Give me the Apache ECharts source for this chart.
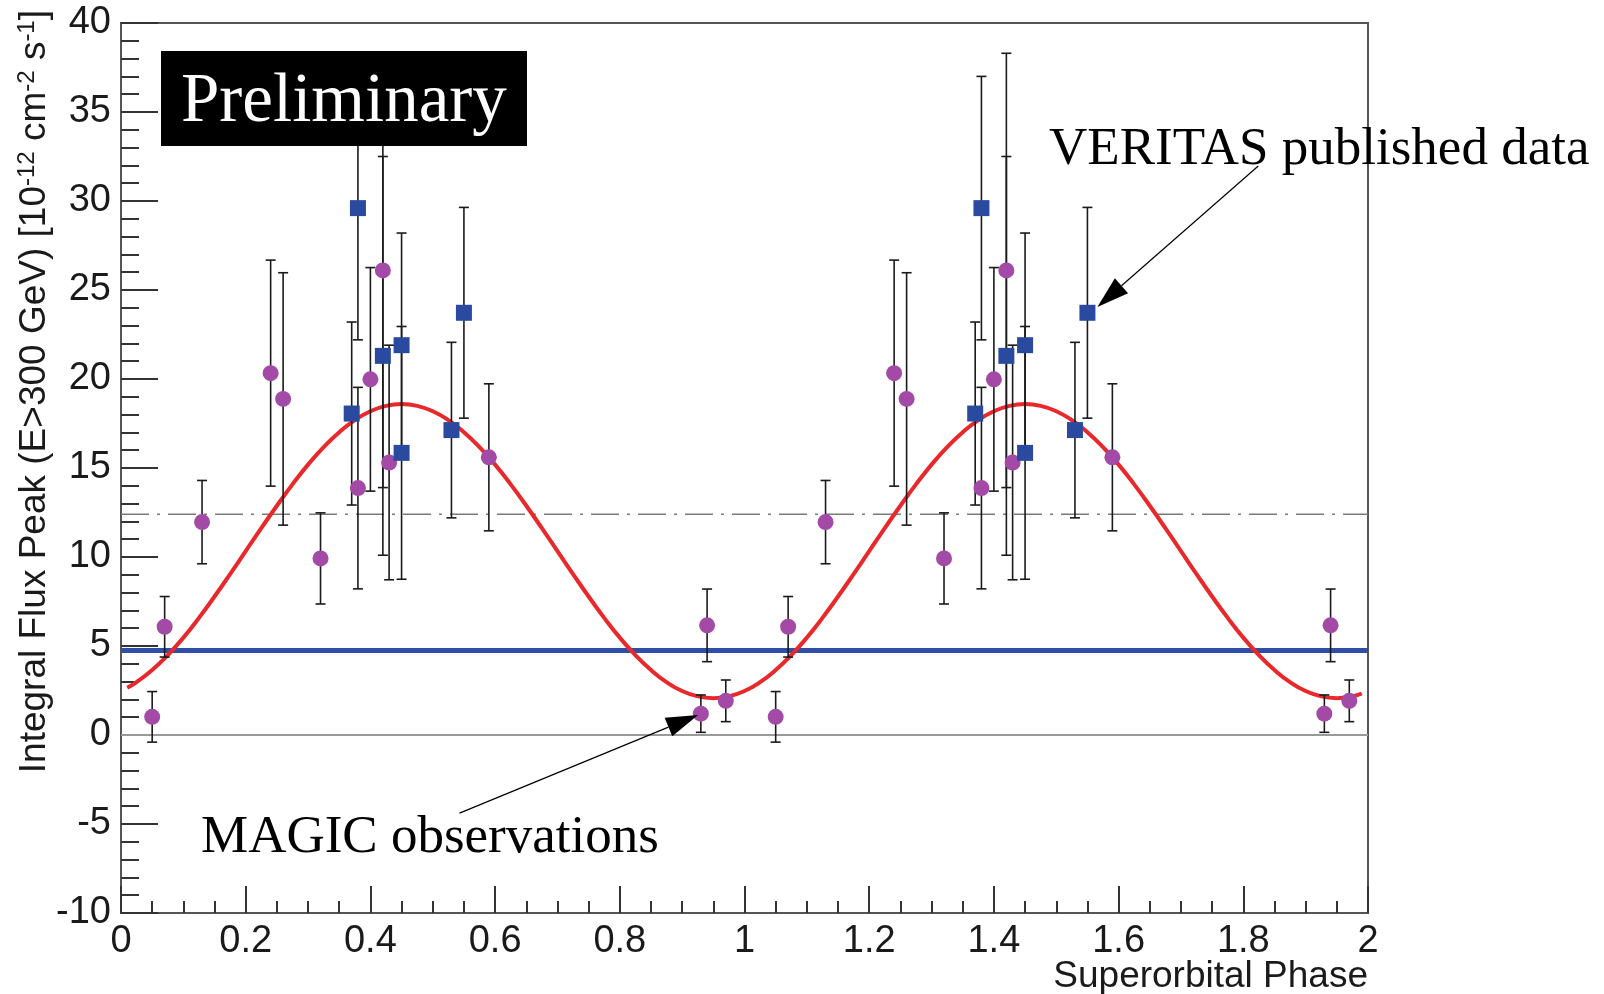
<!DOCTYPE html>
<html><head><meta charset="utf-8">
<script src="https://cdn.jsdelivr.net/npm/echarts@6/dist/echarts.min.js"></script>
<style>html,body{margin:0;padding:0;background:#fff}#c{width:1604px;height:994px}</style>
</head><body><div id="c"></div>
<script>
// ---- data (phase folded; shown over two cycles) ----
const magicPhase = [0.05, 0.07, 0.13, 0.24, 0.26, 0.32, 0.38, 0.40, 0.42, 0.43, 0.59, 0.93, 0.94, 0.97];
const magicFlux  = [1.02, 6.08, 11.96, 20.33, 18.88, 9.92, 13.87, 19.98, 26.1, 15.31, 15.6, 1.2, 6.16, 1.92];
const magicErr   = [1.42, 1.70, 2.34, 6.35, 7.09, 2.56, 5.66, 6.28, 12.2, 6.59, 4.13, 1.05, 2.04, 1.17];

const veritasPhase = [0.37, 0.38, 0.42, 0.45, 0.45, 0.53, 0.55];
const veritasFlux  = [18.06, 29.6, 21.3, 21.9, 15.85, 17.13, 23.72];
const veritasErr   = [5.14, 7.4, 11.2, 6.3, 7.1, 4.93, 5.92];

const cycles = [0, 1];

// red fitted curve
const fitPhase = [0.01,
  0.025,0.05,0.075,0.10,0.125,0.15,0.175,0.20,0.225,0.25,0.275,0.30,0.325,0.35,0.375,0.40,0.425,0.45,0.475,0.50,
  0.525,0.55,0.575,0.60,0.625,0.65,0.675,0.70,0.725,0.75,0.775,0.80,0.825,0.85,0.875,0.90,0.925,0.95,0.975,1.00,
  1.025,1.05,1.075,1.10,1.125,1.15,1.175,1.20,1.225,1.25,1.275,1.30,1.325,1.35,1.375,1.40,1.425,1.45,1.475,1.50,
  1.525,1.55,1.575,1.60,1.625,1.65,1.675,1.70,1.725,1.75,1.775,1.80,1.825,1.85,1.875,1.90,1.925,1.95,1.975,1.99];
const fitFlux = [2.65,
  2.97,3.65,4.49,5.47,6.58,7.78,9.04,10.33,11.62,12.88,14.08,15.19,16.17,17.01,17.69,18.19,18.49,18.59,18.49,18.19,
  17.69,17.01,16.17,15.19,14.08,12.88,11.62,10.33,9.04,7.78,6.58,5.47,4.49,3.65,2.97,2.47,2.17,2.07,2.17,2.47,
  2.97,3.65,4.49,5.47,6.58,7.78,9.04,10.33,11.62,12.88,14.08,15.19,16.17,17.01,17.69,18.19,18.49,18.59,18.49,18.19,
  17.69,17.01,16.17,15.19,14.08,12.88,11.62,10.33,9.04,7.78,6.58,5.47,4.49,3.65,2.97,2.47,2.17,2.07,2.17,2.33];

const blueLevel = 4.75;   // blue horizontal line
const dashLevel = 12.4;   // dash-dot mean line
const xRange = [0, 2];
const yRange = [-10, 40];

// annotation arrows (data coordinates: tail -> tip)
const veritasArrow = [[1.824, 31.97], [1.566, 24.05]];
const magicArrow   = [[0.543, -4.39], [0.9255, 1.13]];

// ---- build ----
const magicData = cycles.flatMap(c => magicPhase.map((p, i) => [p + c, magicFlux[i], magicErr[i]]));
const veritasData = cycles.flatMap(c => veritasPhase.map((p, i) => [p + c, veritasFlux[i], veritasErr[i]]));
const fitData = fitPhase.map((p, i) => [p, fitFlux[i]]);

function errBar(params, api) {
  const x = api.value(0), y = api.value(1), e = api.value(2);
  const t = api.coord([x, y + e]), b = api.coord([x, y - e]);
  const hw = 5;
  const st = { stroke: '#1a1a1a', lineWidth: 1.6 };
  return { type: 'group', children: [
    { type: 'line', shape: { x1: t[0], y1: t[1], x2: b[0], y2: b[1] }, style: st },
    { type: 'line', shape: { x1: t[0] - hw, y1: t[1], x2: t[0] + hw, y2: t[1] }, style: st },
    { type: 'line', shape: { x1: b[0] - hw, y1: b[1], x2: b[0] + hw, y2: b[1] }, style: st }
  ]};
}

const font = 'Liberation Sans';
const chart = echarts.init(document.getElementById('c'));
chart.setOption({
  animation: false,
  backgroundColor: '#fff',
  grid: { left: 121, right: 236, top: 23, bottom: 81, show: true, borderColor: '#555', borderWidth: 2, backgroundColor: 'transparent' },
  xAxis: {
    type: 'value', min: xRange[0], max: xRange[1], interval: 0.2,
    axisLine: { show: true, onZero: false, lineStyle: { color: '#555', width: 2 } },
    axisTick: { show: true, inside: true, length: 27, lineStyle: { color: '#333', width: 2 } },
    minorTick: { show: true, splitNumber: 4, length: 12, lineStyle: { color: '#333', width: 2 } },
    splitLine: { show: false },
    axisLabel: { fontSize: 38, fontFamily: font, color: '#1a1a1a', margin: 10 }
  },
  yAxis: {
    type: 'value', min: yRange[0], max: yRange[1], interval: 5,
    axisLine: { show: true, onZero: false, lineStyle: { color: '#555', width: 2 } },
    axisTick: { show: true, inside: true, length: 37, lineStyle: { color: '#333', width: 2 } },
    minorTick: { show: true, splitNumber: 5, length: 18, lineStyle: { color: '#333', width: 2 } },
    splitLine: { show: false },
    axisLabel: { fontSize: 38, fontFamily: font, color: '#1a1a1a', margin: 10 }
  },
  series: [
    { type: 'line', data: [[xRange[0], 0], [xRange[1], 0]], symbol: 'none', z: 1,
      lineStyle: { color: '#9a9a9a', width: 2 } },
    { type: 'line', data: [[xRange[0], dashLevel], [xRange[1], dashLevel]], symbol: 'none', z: 1,
      lineStyle: { color: '#7a7a7a', width: 1.5, type: [28, 8, 3, 8] } },
    { type: 'line', data: [[xRange[0], blueLevel], [xRange[1], blueLevel]], symbol: 'none', z: 2,
      lineStyle: { color: '#2f4fa7', width: 5 } },
    { type: 'line', data: fitData, symbol: 'none', smooth: true, z: 3,
      lineStyle: { color: '#e8282b', width: 4 } },
    { type: 'custom', renderItem: errBar, data: magicData, encode: { x: 0, y: 1 }, z: 4 },
    { type: 'custom', renderItem: errBar, data: veritasData, encode: { x: 0, y: 1 }, z: 4 },
    { type: 'scatter', data: magicData.map(d => [d[0], d[1]]), symbol: 'circle', symbolSize: 16, z: 5,
      itemStyle: { color: '#a24aa6', opacity: 1 } },
    { type: 'scatter', data: veritasData.map(d => [d[0], d[1]]), symbol: 'rect', symbolSize: 16, z: 6,
      itemStyle: { color: '#2a4aa0', opacity: 1 } }
  ]
});

function arrow(a) {
  const p0 = chart.convertToPixel({ gridIndex: 0 }, a[0]);
  const p1 = chart.convertToPixel({ gridIndex: 0 }, a[1]);
  const dx = p1[0] - p0[0], dy = p1[1] - p0[1];
  const L = Math.hypot(dx, dy), ux = dx / L, uy = dy / L;
  const len = 32, hw = 10;
  const bx = p1[0] - ux * len, by = p1[1] - uy * len;
  return [
    { type: 'line', z: 120, shape: { x1: p0[0], y1: p0[1], x2: bx, y2: by }, style: { stroke: '#000', lineWidth: 1.2 } },
    { type: 'polygon', z: 120, shape: { points: [[p1[0], p1[1]], [bx - uy * hw, by + ux * hw], [bx + uy * hw, by - ux * hw]] },
      style: { fill: '#000' } }
  ];
}

const serif = 'Liberation Serif';
chart.setOption({
  graphic: [
    { type: 'rect', z: 100, shape: { x: 161, y: 51, width: 366, height: 95 }, style: { fill: '#000' } },
    { type: 'text', z: 101, x: 181, y: 103, style: { text: 'Preliminary', fill: '#fff', font: '69px "' + serif + '"', align: 'left', verticalAlign: 'middle' } },
    { type: 'text', z: 101, x: 1049, y: 150, style: { text: 'VERITAS published data', fill: '#000', font: '53px "' + serif + '"', align: 'left', verticalAlign: 'middle' } },
    { type: 'text', z: 101, x: 201, y: 838, style: { text: 'MAGIC observations', fill: '#000', font: '53px "' + serif + '"', align: 'left', verticalAlign: 'middle' } },
    { type: 'text', z: 101, x: 1368, y: 977, style: { text: 'Superorbital Phase', fill: '#1a1a1a', font: '37px "' + font + '"', align: 'right', verticalAlign: 'middle' } },
    { type: 'text', z: 101, x: 35, y: 10, rotation: Math.PI / 2,
      style: {
        text: '{a|Integral Flux Peak (E>300 GeV) [10}{s|-12}{a| cm}{s|-2}{a| s}{s|-1}{a|]}',
        align: 'right', verticalAlign: 'middle',
        rich: {
          a: { fontSize: 37, fontFamily: font, fill: '#1a1a1a', lineHeight: 40 },
          s: { fontSize: 24, fontFamily: font, fill: '#1a1a1a', lineHeight: 40, padding: [0, 0, 16, 0] }
        }
      } }
  ].concat(arrow(veritasArrow), arrow(magicArrow))
});
</script>
</body></html>
